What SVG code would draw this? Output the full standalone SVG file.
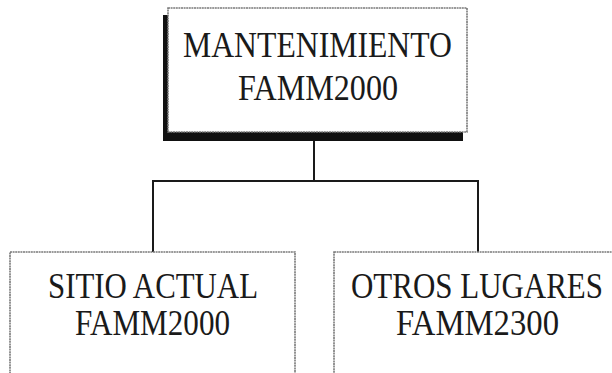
<svg xmlns="http://www.w3.org/2000/svg" width="612" height="373" viewBox="0 0 612 373">
<style>
.box{fill:#fff;stroke:#7a7a7a;stroke-width:1.6;stroke-dasharray:2 0.6}
.t{font-family:"Liberation Serif","Times New Roman",serif;font-size:35px;fill:#1a1a1a;text-anchor:middle}
.c{stroke:#1a1a1a;stroke-width:2;fill:none}
</style>
<rect width="612" height="373" fill="#fff"/>
<g id="connectors">
<line class="c" x1="314" y1="140" x2="314" y2="181"/>
<line class="c" x1="153" y1="181" x2="478" y2="181"/>
<line class="c" x1="153" y1="180" x2="153" y2="252"/>
<line class="c" x1="478" y1="180" x2="478" y2="252"/>
</g>
<g id="mantenimiento">
<rect x="163" y="15" width="300" height="126" fill="#111"/>
<rect class="box" x="168" y="8" width="299" height="124"/>
<text class="t" x="317.5" y="57" textLength="269" lengthAdjust="spacingAndGlyphs">MANTENIMIENTO</text>
<text class="t" x="318" y="100" textLength="160" lengthAdjust="spacingAndGlyphs">FAMM2000</text>
</g>
<g id="sitio">
<rect class="box" x="10" y="252" width="285" height="140"/>
<text class="t" x="153" y="298" textLength="210" lengthAdjust="spacingAndGlyphs">SITIO ACTUAL</text>
<text class="t" x="152.5" y="335" textLength="155" lengthAdjust="spacingAndGlyphs">FAMM2000</text>
</g>
<g id="otros">
<rect class="box" x="334" y="252" width="300" height="140"/>
<text class="t" x="477" y="298" textLength="252" lengthAdjust="spacingAndGlyphs">OTROS LUGARES</text>
<text class="t" x="477.5" y="335" textLength="163" lengthAdjust="spacingAndGlyphs">FAMM2300</text>
</g>
</svg>
